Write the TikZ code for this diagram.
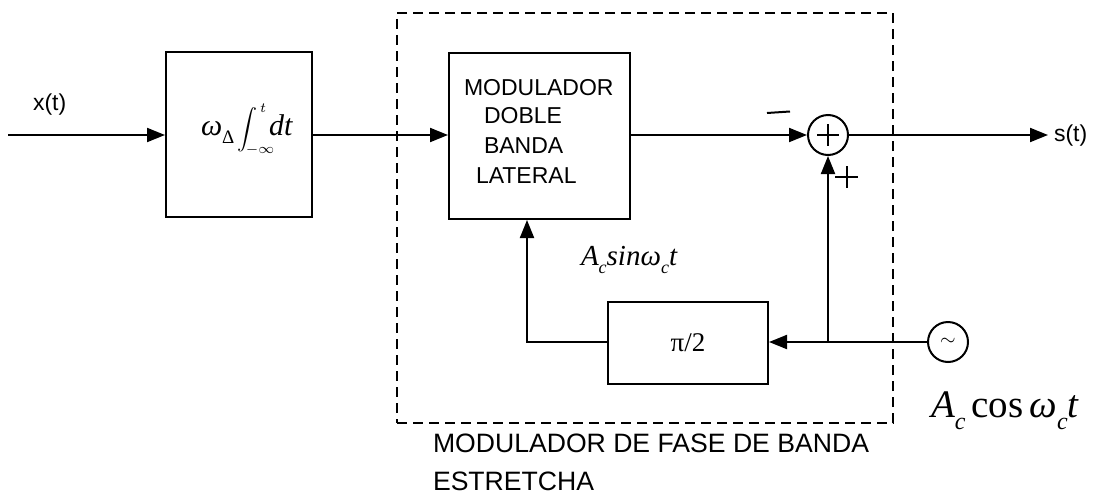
\documentclass[tikz,border=0pt]{standalone}
\usepackage{amsmath}
\usepackage[no-math]{fontspec}
\setmainfont{Liberation Sans}
\newfontfamily\serifrm{Liberation Serif}
\newcommand\myit[1]{\text{\serifrm\itshape #1}}
\newcommand\myrm[1]{\text{\serifrm #1}}
\usetikzlibrary{arrows.meta}
\begin{document}
\begin{tikzpicture}[x=0.5pt,y=-0.5pt, line width=1pt,
  blk/.style={draw, rectangle, inner sep=0pt, line width=1pt},
  sumc/.style={draw, circle, inner sep=0pt, minimum size=20pt, line width=1pt},
  arr/.style={-{Triangle[length=9pt,width=7pt]}},
  lbl/.style={font=\fontsize{11.5}{13}\selectfont, inner sep=0pt, anchor=base west},
  biglbl/.style={font=\fontsize{13.3}{15}\selectfont, inner sep=0pt, anchor=base west},
  grpbox/.style={draw, dash pattern=on 5pt off 3pt, line width=0.8pt, inner sep=0pt}]
\useasboundingbox (0,0) rectangle (1096,503);

% dashed group
\node[grpbox, minimum width=248pt, minimum height=205pt] (grp) at (645,218) {};

% blocks
\node[blk, minimum width=73pt, minimum height=82.5pt] (int) at (239,134.5) {};
\node[inner sep=0pt, anchor=base west] (intl) at (200,135)
  {\fontsize{15}{17}\selectfont\serifrm\itshape ω\raisebox{-0.28em}{\fontsize{9.5}{10}\selectfont\upshape Δ}\kern1.5pt{\fontsize{10}{12}\selectfont$\displaystyle\int_{\!-\infty}^{\,t}$}\kern-3pt dt};
\node[blk, minimum width=90.5pt, minimum height=83pt] (mod) at (539.5,136) {};
\node[blk, minimum width=80pt, minimum height=41pt] (pi) at (688,343)
  {\fontsize{13.5}{15}\selectfont\serifrm π/2};
\node[sumc] (sum) at (828,135) {};
\node[sumc] (osc) at (948,342) {\fontsize{10}{12}\selectfont$\sim$};

% modulator text
\node[lbl] (m1) at (463,95) {MODULADOR};
\node[lbl] (m2) at (483,123) {DOBLE};
\node[lbl] (m3) at (483,153) {BANDA};
\node[lbl] (m4) at (475,183) {LATERAL};

% coordinates
\coordinate (in) at (8,135);
\coordinate (out) at (1048,135);
\coordinate (j) at (828,342);
\coordinate (c) at (527,342);

% connectors
\draw[arr] (in) -- (in -| int.west);
\draw[arr] (int.east |- in) -- (in -| mod.west);
\draw[arr] (mod.east |- sum) -- (sum.west);
\draw[arr] (sum.east) -- (out);
\draw (osc.west) -- (j);
\draw[arr] (j) -- (j -| pi.east);
\draw[arr] (j) -- (sum.south);
\draw[arr] (pi.west |- j) -- (c) -- (c |- mod.south);

% plus inside summer
\draw (sum.center) ++(-11,0) -- ++(22,0);
\draw (sum.center) ++(0,-11) -- ++(0,22);

% signs
\draw (767,113) -- (790,111.5);
\draw (835,177) -- (858,177);
\draw (847,166) -- (847,188);

% labels
\node[lbl] (xl) at (32,110) {x(t)};
\node[lbl] (sl) at (1053,141) {s(t)};
\node[inner sep=0pt, anchor=base west] (al) at (580,265)
  {\fontsize{14.5}{16}\selectfont\serifrm\itshape A\raisebox{-0.3em}{\fontsize{9}{10}\selectfont c}sinω\raisebox{-0.3em}{\fontsize{9}{10}\selectfont c}t};
\node[inner sep=0pt, anchor=base west] (cl) at (930,417)
  {\fontsize{19.5}{22}\selectfont\serifrm\itshape A\raisebox{-0.32em}{\fontsize{12}{13}\selectfont c}\kern3pt\upshape cos\kern3pt\itshape ω\raisebox{-0.32em}{\fontsize{12}{13}\selectfont c}t};
\node[biglbl] (g1) at (432,452) {MODULADOR DE FASE DE BANDA};
\node[biglbl] (g2) at (432,490) {ESTRETCHA};
\end{tikzpicture}
\end{document}
